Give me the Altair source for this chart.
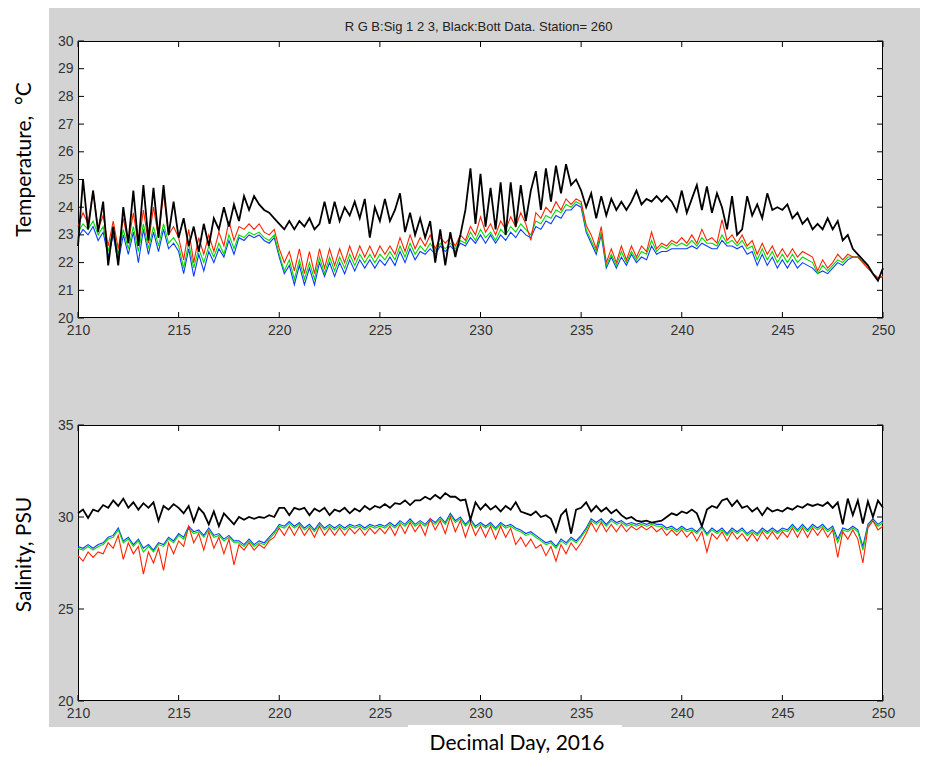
import altair as alt
import pandas as pd

# ---------------- data, one value every 0.25 day from 210 to 250
DAY_START = 210.0
DAY_STEP = 0.25

temp_black = [
    22.6, 25.0, 23.2, 24.6, 23.1, 24.2, 21.9, 23.3,
    21.9, 24.0, 22.7, 24.6, 22.6, 24.8, 22.8, 24.7,
    22.9, 24.8, 23.0, 24.2, 22.9, 23.6, 22.6, 23.3,
    22.4, 23.4, 22.6, 23.6, 23.2, 24.0, 23.3, 24.1,
    23.5, 24.4, 23.9, 24.4, 24.1, 23.9, 23.8, 23.6,
    23.4, 23.2, 23.5, 23.2, 23.5, 23.3, 23.6, 23.2,
    23.4, 24.2, 23.4, 24.2, 23.5, 24.0, 23.7, 24.2,
    23.6, 24.3, 22.9, 24.0, 23.5, 24.3, 23.5, 23.9,
    24.5, 23.1, 23.8, 23.0, 23.6, 22.9, 23.5, 22.0,
    23.2, 21.9, 23.1, 22.2, 23.0, 23.9, 25.4, 23.4,
    25.2, 23.3, 24.7, 23.2, 24.9, 23.0, 24.9, 23.3,
    24.8, 23.5, 24.6, 25.3, 23.9, 25.4, 24.2, 25.5,
    24.5, 25.55, 24.8, 25.0, 24.6, 24.0, 24.5, 23.6,
    24.4, 23.7, 24.3, 23.9, 24.2, 23.9, 24.2, 24.6,
    24.1, 24.3, 24.2, 24.4, 24.2, 24.4, 24.2, 23.85,
    24.6, 23.8, 24.3, 24.8, 23.9, 24.75, 23.8, 24.5,
    24.0, 23.2, 24.4, 23.0, 23.2, 24.4, 23.7, 24.1,
    23.6, 24.5, 23.9, 24.0, 23.9, 24.1, 23.6, 23.8,
    23.4, 23.6, 23.2, 23.4, 23.2, 23.6, 23.2, 23.5,
    22.8, 23.0, 22.5, 22.3, 22.1, 21.9, 21.6, 21.35,
    21.8,
]
temp_red = [
    23.3, 23.8, 23.4, 24.6, 23.2, 23.7, 22.6, 23.5,
    22.5, 23.6, 22.7, 23.8, 22.6, 23.9, 22.7, 24.0,
    22.9, 24.5, 23.0, 23.3, 22.9, 22.1, 23.2, 22.0,
    22.9, 22.3, 23.0, 22.4, 23.1, 22.6, 23.5, 22.8,
    23.3, 23.2, 23.4, 23.2, 23.4, 23.1, 23.0, 23.2,
    22.5, 22.0, 22.4, 21.7, 22.5, 21.6, 22.4, 21.6,
    22.5, 21.8, 22.5, 21.9, 22.5, 22.0, 22.6, 22.1,
    22.6, 22.2, 22.6, 22.2, 22.6, 22.3, 22.6, 22.3,
    22.9, 22.4, 23.0, 22.5, 22.9, 22.6, 23.0, 22.5,
    22.9, 22.7, 22.9, 22.6, 23.0, 22.8, 23.3, 23.0,
    23.65, 23.1, 23.4, 23.0, 23.5, 23.2, 23.65, 23.3,
    23.8, 23.4, 22.8, 23.8, 23.6, 24.0, 23.8, 24.2,
    23.9, 24.3, 24.1, 24.3, 24.2, 23.35, 23.0, 22.5,
    23.3, 22.0, 22.5, 22.0, 22.6, 22.1, 22.6, 22.2,
    22.6, 22.4, 23.1, 22.5, 22.7, 22.6, 22.8, 22.7,
    22.9, 22.7, 23.0, 22.7, 23.2, 22.8, 22.9, 22.7,
    23.55, 22.8, 23.0, 22.7, 23.0, 22.6, 22.8, 22.3,
    22.7, 22.3, 22.6, 22.2, 22.5, 22.2, 22.5, 22.2,
    22.4, 22.3, 22.2, 21.7, 22.1, 21.8, 22.0, 22.3,
    22.1, 22.3, 22.2, 22.2, 22.0, 21.8, 21.6, 21.45,
    21.5,
]
temp_green = [
    23.1, 23.4, 23.2, 23.5, 23.0, 23.3, 22.4, 23.2,
    22.3, 23.2, 22.5, 23.3, 22.4, 23.4, 22.5, 23.3,
    22.6, 23.4, 22.7, 22.9, 22.6, 21.8, 22.7, 21.8,
    22.5, 22.0, 22.6, 22.2, 22.7, 22.3, 23.0, 22.5,
    23.0, 22.9, 23.1, 23.0, 23.1, 22.9, 22.8, 23.0,
    22.3, 21.7, 22.1, 21.4, 22.1, 21.4, 22.0, 21.4,
    22.2, 21.6, 22.2, 21.7, 22.2, 21.8, 22.3, 21.9,
    22.3, 22.0, 22.3, 22.0, 22.3, 22.1, 22.4, 22.1,
    22.6, 22.2, 22.7, 22.3, 22.6, 22.4, 22.7, 22.4,
    22.7, 22.5, 22.7, 22.5, 22.8, 22.7, 23.1, 22.8,
    23.2, 22.9, 23.1, 22.8, 23.2, 23.0, 23.3, 23.1,
    23.4, 23.2, 23.0, 23.5, 23.4, 23.7, 23.6, 23.9,
    23.8, 24.1, 24.0, 24.2, 24.1, 23.2, 22.8, 22.4,
    23.1, 21.9, 22.3, 21.9, 22.4, 22.0, 22.4, 22.1,
    22.4, 22.3, 22.8, 22.4, 22.6, 22.5, 22.7, 22.6,
    22.7, 22.6, 22.8, 22.6, 22.9, 22.7, 22.7, 22.6,
    23.0, 22.7, 22.8, 22.6, 22.8, 22.5, 22.6, 22.1,
    22.5, 22.1, 22.4, 22.0, 22.3, 22.0, 22.3, 22.0,
    22.2, 22.1, 22.0, 21.6, 21.9, 21.7, 21.9, 22.1,
    22.0, 22.2, 22.2, 22.2, 22.0, 21.8, 21.6, 21.45,
    21.5,
]
temp_blue = [
    22.9, 23.2, 23.0, 23.3, 22.8, 23.1, 22.2, 23.0,
    22.0, 23.0, 22.3, 23.1, 22.0, 23.2, 22.3, 23.1,
    22.4, 23.2, 22.5, 22.7, 22.4, 21.6, 22.5, 21.5,
    22.3, 21.7, 22.4, 22.0, 22.5, 22.2, 22.8, 22.3,
    22.9, 22.8, 23.0, 22.9, 23.0, 22.8, 22.7, 22.9,
    22.2, 21.6, 21.9, 21.2, 21.9, 21.2, 21.8, 21.2,
    22.0, 21.5, 22.0, 21.5, 22.0, 21.6, 22.1, 21.7,
    22.1, 21.8, 22.1, 21.8, 22.1, 21.9, 22.2, 21.9,
    22.4, 22.0, 22.5, 22.1, 22.4, 22.3, 22.5, 22.3,
    22.6, 22.4, 22.6, 22.4, 22.7, 22.6, 22.9, 22.7,
    23.0, 22.7, 23.0, 22.7, 23.0, 22.8, 23.1, 22.9,
    23.2, 23.0, 22.9, 23.3, 23.2, 23.5, 23.4, 23.7,
    23.6, 23.9, 23.9, 24.1, 24.0, 23.1, 22.7, 22.3,
    23.0, 21.8, 22.2, 21.8, 22.2, 21.9, 22.3, 22.0,
    22.2, 22.1, 22.6, 22.3, 22.4, 22.4, 22.5, 22.5,
    22.5, 22.5, 22.6, 22.5, 22.7, 22.6, 22.5, 22.5,
    22.8, 22.6, 22.6, 22.5, 22.6, 22.3, 22.4, 21.9,
    22.3, 21.9, 22.2, 21.8, 22.1, 21.8, 22.1, 21.8,
    22.0, 21.9, 21.8, 21.6, 21.7, 21.6, 21.8, 22.0,
    21.9, 22.1, 22.2, 22.2, 22.0, 21.8, 21.6, 21.45,
    21.5,
]

sal_black = [
    30.2, 30.4, 29.95, 30.4, 30.3, 30.65, 30.5, 30.9,
    30.6, 31.0, 30.5, 30.8, 30.4, 30.75, 30.5, 30.8,
    29.8, 30.6, 30.4, 30.7, 30.5, 30.2, 30.6, 29.75,
    30.5, 30.2, 29.6, 30.3, 29.5, 30.2, 29.9, 29.6,
    30.0, 29.85, 30.0, 29.9, 30.0, 29.95, 30.1, 30.0,
    30.5, 30.5, 30.1, 30.5, 30.4, 30.5, 30.1, 30.45,
    30.3, 30.5, 30.1, 30.4, 30.3, 30.5, 30.2, 30.45,
    30.3, 30.6, 30.4, 30.6, 30.5, 30.7, 30.5, 30.75,
    30.7, 30.9, 30.65, 30.9, 30.9, 31.1, 30.95, 31.2,
    31.0, 31.3, 31.1, 31.1, 30.9, 30.95, 29.85, 30.8,
    30.4, 30.7, 30.4, 30.6, 30.3, 30.6, 30.4, 30.8,
    30.3, 30.2, 30.1, 30.3, 30.0, 30.1, 29.9, 29.2,
    30.1, 30.4, 29.1, 30.4, 30.5, 30.8, 30.3, 30.6,
    30.3, 30.5, 30.2, 30.4, 30.1, 29.9, 30.0, 29.8,
    29.75, 29.8, 29.7, 29.75, 29.8, 30.0, 30.2, 30.1,
    30.3, 30.2, 30.4, 30.2, 29.5, 30.4, 30.6, 30.5,
    30.9, 31.0, 30.6, 30.9, 30.5, 30.6, 30.3, 30.5,
    30.1, 30.5, 30.3, 30.4, 30.3, 30.5, 30.4, 30.6,
    30.5, 30.7, 30.6, 30.7, 30.6, 30.8, 30.5, 30.8,
    29.6, 31.0, 30.1, 30.9, 29.65, 30.85, 30.0, 30.9,
    30.5,
]
sal_blue = [
    28.4, 28.3, 28.5, 28.3, 28.5, 28.6, 28.9, 29.0,
    29.4, 28.7, 28.9, 28.5, 28.8, 28.3, 28.5, 28.2,
    28.6, 28.5, 28.9, 28.7, 29.1, 28.9, 29.5, 29.2,
    29.3, 29.0, 29.4, 29.0, 29.1, 28.8, 29.0, 28.7,
    28.7, 28.5, 28.8, 28.5, 28.7, 28.6, 28.9, 29.2,
    29.6, 29.5, 29.75, 29.5, 29.7, 29.4, 29.6, 29.3,
    29.7, 29.4, 29.6, 29.4, 29.6, 29.4, 29.6, 29.5,
    29.6, 29.4, 29.6, 29.5, 29.6, 29.5, 29.7, 29.5,
    29.8, 29.6, 29.9, 29.6, 29.8, 29.6, 29.9, 29.7,
    30.0, 29.7, 30.2, 29.8, 30.0, 29.6, 29.9, 29.5,
    29.7, 29.5, 29.7, 29.4, 29.7, 29.5, 29.6, 29.4,
    29.3, 29.1, 29.2, 29.0, 28.8, 28.6, 28.7, 28.4,
    28.8, 28.6, 28.9, 28.7, 29.0, 29.4, 29.9, 29.7,
    29.9, 29.6, 29.9, 29.7, 29.8, 29.6, 29.7, 29.6,
    29.7, 29.6, 29.7, 29.6, 29.6, 29.4, 29.5, 29.3,
    29.5, 29.3, 29.4, 29.2, 29.5, 29.1, 29.4, 29.2,
    29.4, 29.1, 29.4, 29.2, 29.4, 29.1, 29.3, 29.1,
    29.4, 29.2, 29.4, 29.2, 29.4, 29.3, 29.6, 29.3,
    29.6, 29.3, 29.6, 29.4, 29.6, 29.3, 29.5, 28.8,
    29.4, 29.3, 29.5, 29.3, 28.4, 29.6, 29.9, 29.6,
    29.8,
]
sal_green = [
    28.3, 28.2, 28.4, 28.2, 28.4, 28.5, 28.8, 28.9,
    29.3, 28.6, 28.8, 28.4, 28.7, 28.1, 28.4, 28.1,
    28.5, 28.4, 28.8, 28.6, 29.0, 28.8, 29.4, 29.1,
    29.2, 28.9, 29.3, 28.9, 29.0, 28.7, 28.9, 28.6,
    28.6, 28.4, 28.7, 28.4, 28.6, 28.5, 28.8, 29.1,
    29.5, 29.4, 29.65, 29.4, 29.6, 29.3, 29.5, 29.2,
    29.6, 29.3, 29.5, 29.3, 29.5, 29.3, 29.5, 29.4,
    29.5, 29.3, 29.5, 29.4, 29.5, 29.4, 29.6, 29.4,
    29.7, 29.5, 29.8, 29.5, 29.7, 29.5, 29.8, 29.6,
    29.9, 29.6, 30.1, 29.7, 29.9, 29.5, 29.8, 29.4,
    29.6, 29.4, 29.6, 29.3, 29.6, 29.4, 29.5, 29.3,
    29.2, 29.0, 29.1, 28.9, 28.7, 28.5, 28.6, 28.3,
    28.7, 28.5, 28.8, 28.6, 28.9, 29.3, 29.8, 29.6,
    29.8, 29.5, 29.8, 29.6, 29.7, 29.5, 29.6, 29.5,
    29.6, 29.5, 29.6, 29.5, 29.5, 29.3, 29.4, 29.2,
    29.4, 29.2, 29.3, 29.1, 29.4, 29.0, 29.3, 29.1,
    29.3, 29.0, 29.3, 29.1, 29.3, 29.0, 29.2, 29.0,
    29.3, 29.1, 29.3, 29.1, 29.3, 29.2, 29.5, 29.2,
    29.5, 29.2, 29.5, 29.3, 29.5, 29.2, 29.4, 28.6,
    29.3, 29.2, 29.4, 29.2, 28.2, 29.5, 29.8, 29.5,
    29.7,
]
sal_red = [
    27.9, 27.6, 28.1, 27.8, 28.1, 28.0, 28.6, 28.3,
    29.0, 27.7, 28.6, 28.0, 28.4, 26.9, 28.1, 27.5,
    28.3, 27.1, 28.6, 28.0, 28.7, 28.4, 29.5, 28.6,
    29.1, 28.2, 29.2, 28.3, 28.9, 28.0, 28.8, 27.4,
    28.5, 28.2, 28.6, 28.2, 28.5, 28.3, 28.7, 28.9,
    29.4, 29.0, 29.5, 29.0, 29.5, 29.0, 29.4, 28.9,
    29.5, 29.0, 29.4, 29.0, 29.4, 29.0, 29.4, 29.1,
    29.4, 29.0, 29.4, 29.1, 29.4, 29.1, 29.5, 29.0,
    29.6, 29.1, 29.7, 29.2, 29.6, 29.0, 29.9, 29.3,
    29.8, 29.1, 30.0, 29.2, 29.8, 28.9, 29.7, 29.0,
    29.5, 28.9, 29.5, 28.8, 29.5, 28.9, 29.4, 28.5,
    28.9, 28.4, 28.8, 28.3, 28.5, 27.9, 28.4, 27.6,
    28.5, 28.0, 28.6, 28.2, 28.6, 29.1, 29.7, 29.2,
    29.7, 29.2, 29.6, 29.2, 29.6, 29.2, 29.5, 29.3,
    29.5, 29.3, 29.5, 29.2, 29.4, 29.0, 29.3, 29.0,
    29.3, 28.9, 29.2, 28.7, 29.2, 28.1, 29.1, 28.8,
    29.2, 28.7, 29.2, 28.8, 29.1, 28.7, 29.1, 28.7,
    29.2, 28.8, 29.2, 28.8, 29.2, 28.9, 29.4, 28.9,
    29.4, 28.9, 29.4, 29.0, 29.4, 28.9, 29.3, 27.8,
    29.2, 28.8, 29.3, 28.8, 27.5, 29.4, 29.8, 29.3,
    29.5,
]

X_TICKS = [210, 215, 220, 225, 230, 235, 240, 245, 250]
T_TICKS = [20, 21, 22, 23, 24, 25, 26, 27, 28, 29, 30]
S_TICKS = [20, 25, 30, 35]

TITLE = "R G B:Sig 1 2 3, Black:Bott Data. Station= 260"
T_LABEL = "Temperature,\u00a0 °C"
S_LABEL = "Salinity, PSU"
X_LABEL = "Decimal Day, 2016"

# ---------------- styling
W = 805
H_TOP = 277
H_BOT = 276
GRAY = "#d3d3d3"
TICK_FONT = "Liberation Sans"
TICK_COLOR = "#333333"
LABEL_FONT = "Lato"
SERIES = [  # drawn in this order
    ("blue", "#0a3cff", 1.1),
    ("green", "#00dd00", 1.1),
    ("red", "#ff2200", 1.1),
    ("black", "#000000", 1.8),
]

ONE = pd.DataFrame({"k": [0]})


def series_df(vals):
    return pd.DataFrame({
        "day": [DAY_START + DAY_STEP * i for i in range(len(vals))],
        "v": vals,
    })


def panel(data, y_ticks, y_dom, H, y_title, y_title_y, x_title, gray_y, gray_y2, title=None):
    xs = alt.Scale(domain=[210, 250], nice=False, zero=False)
    ys = alt.Scale(domain=y_dom, nice=False, zero=False)
    x_axis_kw = dict(values=X_TICKS, format="d", ticks=False, domain=False, grid=False,
                     labelPadding=5, labelFont=TICK_FONT, labelFontSize=14,
                     labelColor=TICK_COLOR, labelFlush=False, labelOverlap=False, zindex=1)
    if x_title:
        x_axis = alt.Axis(title=x_title, titleFont=LABEL_FONT, titleFontSize=21,
                          titleFontWeight="normal", titleColor="black", titleX=438.5,
                          titleY=48, titleAlign="center", titleBaseline="alphabetic",
                          **x_axis_kw)
    else:
        x_axis = alt.Axis(title=None, **x_axis_kw)
    y_axis = alt.Axis(values=y_ticks, format="d", ticks=False, domain=False, grid=False,
                      labelPadding=5, labelFont=TICK_FONT, labelFontSize=14,
                      labelColor=TICK_COLOR, labelFlush=False, labelOverlap=False,
                      title=y_title, titleFont=LABEL_FONT, titleFontSize=21,
                      titleFontWeight="normal", titleColor="black", titleX=-54,
                      titleY=y_title_y, titleAngle=270, titleAlign="center",
                      titleBaseline="middle", zindex=1)

    gray = alt.Chart(ONE).mark_rect(fill=GRAY).encode(
        x=alt.value(-29), x2=alt.value(842), y=alt.value(gray_y), y2=alt.value(gray_y2))
    edge = alt.Chart(ONE).mark_rect(fill="white").encode(
        x=alt.value(-70), x2=alt.value(-69), y=alt.value(0), y2=alt.value(1))
    frame = alt.Chart(ONE).mark_rect(fill="white", stroke="black", strokeWidth=1).encode(
        x=alt.value(0.5), x2=alt.value(W - 0.5), y=alt.value(0.5), y2=alt.value(H - 0.5))

    layers = [gray, edge, frame]
    if x_title:
        notch = alt.Chart(ONE).mark_rect(fill="white").encode(
            x=alt.value(330), x2=alt.value(544), y=alt.value(gray_y2 - 2), y2=alt.value(gray_y2))
        layers.append(notch)
    if title:
        layers.append(
            alt.Chart(ONE).mark_text(text=title, font=TICK_FONT, fontSize=13,
                                     color="#222222", align="center",
                                     baseline="alphabetic").encode(
                x=alt.value(W / 2 - 2), y=alt.value(-10))
        )

    for name, color, sw in SERIES:
        layers.append(
            alt.Chart(series_df(data[name])).mark_line(color=color, strokeWidth=sw).encode(
                x=alt.X("day:Q", scale=xs, axis=x_axis),
                y=alt.Y("v:Q", scale=ys, axis=y_axis),
            )
        )

    xt = pd.DataFrame({"day": X_TICKS})
    yt = pd.DataFrame({"v": y_ticks})
    tick = dict(color="black", strokeWidth=1)
    layers += [
        alt.Chart(xt).mark_rule(**tick).encode(
            x=alt.X("day:Q", scale=xs, axis=x_axis), y=alt.value(H), y2=alt.value(H - 6)),
        alt.Chart(xt).mark_rule(**tick).encode(
            x=alt.X("day:Q", scale=xs, axis=x_axis), y=alt.value(0), y2=alt.value(6)),
        alt.Chart(yt).mark_rule(**tick).encode(
            y=alt.Y("v:Q", scale=ys, axis=y_axis), x=alt.value(0), x2=alt.value(6)),
        alt.Chart(yt).mark_rule(**tick).encode(
            y=alt.Y("v:Q", scale=ys, axis=y_axis), x=alt.value(W), x2=alt.value(W - 6)),
    ]
    return alt.layer(*layers).properties(width=W, height=H)


top = panel({"black": temp_black, "red": temp_red, "green": temp_green, "blue": temp_blue},
            T_TICKS, [20, 30], H_TOP, T_LABEL, 118, None, -33, H_TOP + 60, title=TITLE)
bottom = panel({"black": sal_black, "red": sal_red, "green": sal_green, "blue": sal_blue},
               S_TICKS, [20, 35], H_BOT, S_LABEL, 129, X_LABEL, -60, 302)

chart = alt.vconcat(top, bottom, spacing=107, bounds="flush").properties(
    padding={"left": 0, "top": 0, "right": 0, "bottom": 0}
).configure_view(stroke=None)

chart.save("out.html", embed_options={"renderer": "svg", "actions": False})
